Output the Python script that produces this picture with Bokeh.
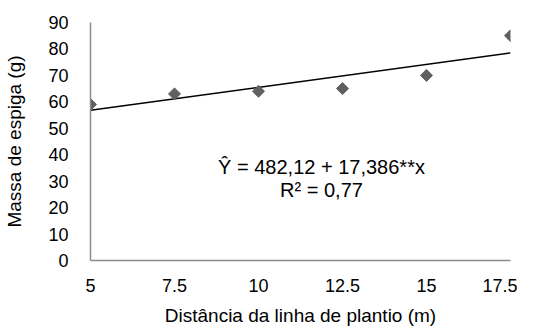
import numpy as np
from math import pi
from bokeh.plotting import figure
from bokeh.models import Range1d, FixedTicker, Label
from bokeh.embed import file_html
from bokeh.resources import INLINE

distancia = [5, 7.5, 10, 12.5, 15, 17.5]
massa = [59, 63, 64, 65, 70, 85]
y_ticks = [0, 10, 20, 30, 40, 50, 60, 70, 80, 90]
eq_text = "Ŷ = 482,12 + 17,386**x"
r2_text = "R² = 0,77"

FONT = "Liberation Sans"

p = figure(width=517, height=328, output_backend="svg", toolbar_location=None,
           x_range=Range1d(5, 17.5), y_range=Range1d(0, 90),
           min_border_left=90, min_border_right=7, min_border_top=22, min_border_bottom=68)
p.outline_line_color = None
p.xgrid.visible = False
p.ygrid.visible = False

for ax in (p.xaxis[0], p.yaxis[0]):
    ax.axis_line_color = "#8c8c8c"
    ax.axis_line_width = 1.5
    ax.major_tick_line_color = None
    ax.minor_tick_line_color = None
    ax.major_label_text_font = FONT
    ax.major_label_text_font_size = "18px"
    ax.major_label_text_color = "#000000"
    ax.axis_label_text_font = FONT
    ax.axis_label_text_font_size = "19px"
    ax.axis_label_text_font_style = "normal"
    ax.axis_label_text_color = "#000000"

p.xaxis.ticker = FixedTicker(ticks=distancia)
p.xaxis.major_label_overrides = {5: "5", 10: "10", 15: "15"}
p.yaxis.ticker = FixedTicker(ticks=y_ticks)
p.xaxis.axis_label = "Distância da linha de plantio (m)"
p.yaxis.axis_label = "Massa de espiga (g)"
p.xaxis.major_label_standoff = 12
p.yaxis.major_label_standoff = 16
p.xaxis.axis_label_standoff = 10
p.yaxis.axis_label_standoff = 20

coef = np.polyfit(distancia, massa, 1)
xs = [distancia[0], distancia[-1]]
ys = [coef[0] * x + coef[1] for x in xs]
p.line(xs, ys, line_color="#000000", line_width=1.5)

p.scatter(distancia, massa, marker="square", size=8.5, angle=pi / 4,
          fill_color="#606060", line_color="#606060")

p.add_layout(Label(x=11.875, y=35.5, text=eq_text, text_align="center", text_baseline="middle",
                   text_font=FONT, text_font_size="20px", text_color="#000000"))
p.add_layout(Label(x=11.875, y=26.5, text=r2_text, text_align="center", text_baseline="middle",
                   text_font=FONT, text_font_size="20px", text_color="#000000"))

open("out.html", "w").write(file_html(p, INLINE))
